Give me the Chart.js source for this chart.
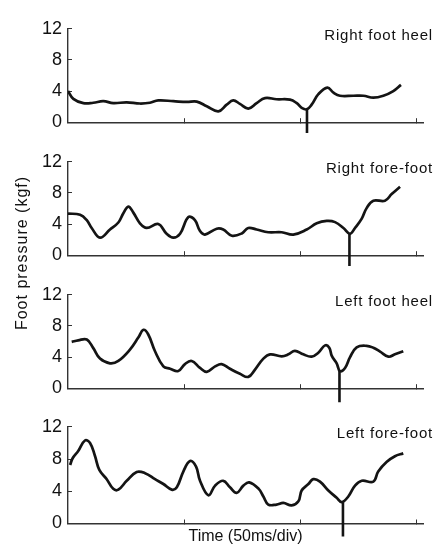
<!DOCTYPE html>
<html>
<head>
<meta charset="utf-8">
<script src="https://cdn.jsdelivr.net/npm/chart.js@4.4.1/dist/chart.umd.min.js"></script>
<style>
html,body{margin:0;padding:0;background:#fff;}
#wrap{position:relative;width:435px;height:546px;overflow:hidden;background:#fff;}
.pc{position:absolute;left:0;width:435px;}
#ytitle{position:absolute;left:-78px;top:243px;width:200px;height:20px;line-height:20px;text-align:center;
  transform:rotate(-90deg);font-family:'Liberation Sans',Arial,sans-serif;font-size:16px;letter-spacing:1px;color:#111;white-space:nowrap;}
</style>
</head>
<body>
<div id="wrap">
  <div class="pc" id="p0" style="top:8px;height:135px"><canvas id="c0"></canvas></div>
  <div class="pc" id="p1" style="top:141px;height:135px"><canvas id="c1"></canvas></div>
  <div class="pc" id="p2" style="top:273.5px;height:135px"><canvas id="c2"></canvas></div>
  <div class="pc" id="p3" style="top:406px;height:140px"><canvas id="c3"></canvas></div>
  <div id="ytitle">Foot pressure (kgf)</div>
</div>
<script>
// ---- Data (time in ms, pressure in kgf) ----
const panelNames = ["Right foot heel", "Right fore-foot", "Left foot heel", "Left fore-foot"];
const yTickValues = [0, 4, 8, 12];
const xTickValues = [50, 100, 150];
const xAxisTitle = "Time (50ms/div)";
const yAxisTitle = "Foot pressure (kgf)";

const rightHeelT = [0, 2.3, 6.6, 10.9, 15.2, 19.5, 25.3, 31.0, 35.3, 38.9, 45.4, 51.2, 55.5, 59.8, 64.8, 68.4, 71.2, 74.1, 77.7, 81.3, 84.9, 89.9, 95.7, 98.6, 100.7, 102.9, 105.0, 107.9, 111.8, 114.4, 117.2, 123.0, 127.3, 131.6, 135.9, 140.2, 143.5];
const rightHeelV = [4.0, 3.0, 2.45, 2.5, 2.7, 2.45, 2.55, 2.4, 2.5, 2.8, 2.7, 2.6, 2.65, 2.05, 1.4, 2.25, 2.8, 2.35, 1.75, 2.45, 3.1, 2.95, 2.9, 2.45, 1.85, 1.65, 2.25, 3.6, 4.45, 3.8, 3.4, 3.4, 3.4, 3.15, 3.4, 4.0, 4.8];

const rightForeT = [0, 5.2, 8.1, 10.2, 13.8, 18.1, 21.7, 23.8, 26.0, 28.1, 31.0, 33.9, 38.9, 42.5, 45.4, 48.3, 51.9, 54.7, 56.9, 59.0, 64.1, 66.9, 70.6, 74.9, 77.7, 81.3, 86.3, 92.1, 97.1, 102.9, 107.2, 111.5, 115.1, 118.7, 121.5, 123.7, 126.6, 128.7, 131.6, 136.6, 139.5, 143.1];
const rightForeV = [5.35, 5.2, 4.5, 3.5, 2.25, 3.3, 4.2, 5.35, 6.25, 5.5, 4.1, 3.5, 4.0, 2.75, 2.25, 2.75, 4.9, 4.5, 3.1, 2.65, 3.4, 3.3, 2.5, 2.8, 3.5, 3.3, 2.95, 2.95, 2.65, 3.3, 4.1, 4.4, 4.25, 3.5, 2.75, 3.5, 4.7, 6.05, 7.0, 7.0, 7.85, 8.8];

const leftHeelT = [1.6, 4.4, 8.1, 10.9, 13.8, 18.1, 21.7, 26.7, 30.3, 32.5, 34.6, 37.5, 41.1, 44.0, 47.5, 50.4, 53.3, 56.9, 59.8, 63.4, 66.2, 69.8, 74.1, 77.7, 80.6, 84.2, 87.1, 92.1, 95.0, 97.8, 101.4, 105.0, 107.9, 110.8, 112.6, 113.7, 115.8, 117.2, 119.4, 121.5, 124.4, 128.7, 131.6, 134.5, 138.1, 140.9, 144.5];
const leftHeelV = [5.95, 6.15, 6.25, 5.15, 3.8, 3.2, 3.5, 4.95, 6.5, 7.5, 6.9, 4.75, 2.8, 2.5, 2.2, 3.1, 3.5, 2.6, 2.1, 2.8, 3.1, 2.5, 1.85, 1.45, 2.4, 3.8, 4.35, 4.1, 4.35, 4.8, 4.35, 4.05, 4.55, 5.5, 5.2, 4.15, 3.2, 2.2, 2.6, 3.95, 5.25, 5.45, 5.2, 4.7, 4.05, 4.35, 4.75];

const leftForeT = [0.9, 2.0, 4.4, 7.3, 9.5, 11.6, 13.5, 16.7, 19.5, 21.7, 25.3, 29.6, 33.2, 37.5, 41.1, 44.7, 46.9, 49.7, 52.6, 55.2, 56.9, 60.5, 63.4, 66.9, 69.8, 72.7, 75.6, 78.1, 82.2, 84.2, 86.3, 89.9, 92.8, 96.4, 99.3, 100.7, 103.6, 105.7, 108.6, 112.2, 115.8, 118.0, 120.8, 123.7, 126.6, 131.6, 133.7, 137.4, 140.9, 144.5];
const leftForeV = [7.25, 8.1, 9.0, 10.3, 10.0, 8.4, 6.65, 5.5, 4.3, 4.2, 5.3, 6.4, 6.25, 5.5, 4.9, 4.2, 4.5, 6.45, 7.75, 7.05, 5.3, 3.5, 4.7, 5.3, 4.5, 3.8, 4.7, 5.1, 4.3, 3.35, 2.35, 2.35, 2.55, 2.25, 2.75, 4.1, 4.9, 5.5, 5.2, 4.1, 3.2, 2.65, 3.35, 4.7, 5.3, 5.2, 6.45, 7.65, 8.35, 8.7];

// vertical event markers: time, top value, bottom value
const markerT = [103.0, 121.3, 117.0, 118.5];
const markerTop = [1.65, 2.75, 2.2, 2.65];
const markerBottom = [-1.4, -1.4, -1.8, -1.6];

const seriesT = [rightHeelT, rightForeT, leftHeelT, leftForeT];
const seriesV = [rightHeelV, rightForeV, leftHeelV, leftForeV];

const FONT = "'Liberation Sans', Arial, sans-serif";
const AXIS = '#333';

const panelLabelPlugin = {
  id: 'panelLabel',
  afterDraw(chart, args, opts) {
    const ctx = chart.ctx;
    ctx.save();
    ctx.font = '15px ' + FONT;
    ctx.fillStyle = '#111';
    ctx.textAlign = 'right';
    ctx.textBaseline = 'alphabetic';
    try { ctx.letterSpacing = '0.8px'; } catch (e) {}
    ctx.fillText(opts.text, 433, chart.chartArea.top + 11);
    ctx.restore();
  }
};

function makeChart(i) {
  const last = i === 3;
  const canvasH = last ? 140 : 135;
  const xHeight = canvasH - 117.5;
  const pts = seriesT[i].map((t, k) => ({x: t, y: seriesV[i][k]}));
  const mk = [{x: markerT[i], y: markerTop[i]}, {x: markerT[i], y: markerBottom[i]}];
  return new Chart(document.getElementById('c' + i), {
    type: 'line',
    data: {
      datasets: [
        {data: pts, borderColor: '#141414', borderWidth: 2.7, pointRadius: 0, tension: 0.4, fill: false},
        {data: mk, borderColor: '#141414', borderWidth: 2.6, pointRadius: 0, tension: 0, fill: false, clip: false}
      ]
    },
    options: {
      responsive: true,
      maintainAspectRatio: false,
      animation: false,
      layout: {padding: {left: 0, right: 12, top: 15, bottom: 0}},
      plugins: {legend: {display: false}, tooltip: {enabled: false}, panelLabel: {text: panelNames[i]}},
      scales: {
        x: {
          type: 'linear', min: 0, max: 153,
          afterBuildTicks: s => { s.ticks = xTickValues.map(v => ({value: v})); },
          afterFit: s => { s.height = xHeight; },
          ticks: {display: false},
          grid: {drawOnChartArea: false, drawTicks: true, tickLength: -4, color: AXIS, lineWidth: 1},
          border: {display: true, color: AXIS, width: 1.4},
          title: {display: last, text: xAxisTitle, color: '#111', font: {family: FONT, size: 16}, padding: {top: 0, bottom: 0}}
        },
        y: {
          type: 'linear', min: 0, max: 12,
          afterBuildTicks: s => { s.ticks = yTickValues.map(v => ({value: v})); },
          afterFit: s => { s.width = 68; },
          ticks: {color: '#111', font: {family: FONT, size: 18}, padding: 10},
          grid: {drawOnChartArea: false, drawTicks: true, tickLength: -4, color: AXIS, lineWidth: 1},
          border: {display: true, color: AXIS, width: 1.4}
        }
      }
    },
    plugins: [panelLabelPlugin]
  });
}
for (let i = 0; i < 4; i++) makeChart(i);
</script>
</body>
</html>
